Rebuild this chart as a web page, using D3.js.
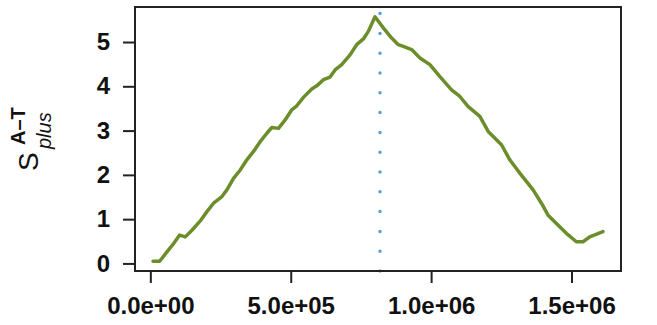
<!DOCTYPE html>
<html>
<head>
<meta charset="utf-8">
<script src="https://cdn.jsdelivr.net/npm/d3@7"></script>
<style>
  body { margin: 0; background: #fff; }
  text { font-family: "Liberation Sans", Arial, Helvetica, sans-serif; }
</style>
</head>
<body>
<svg width="657" height="325"></svg>
<script>
// genomic position and cumulative skew
var positions = [9500, 33200, 59300, 83000, 104300, 124500, 148200, 177800, 201500, 225200,
  254900, 272700, 296300, 320100, 343800, 367500, 391200, 414900, 432700, 456400,
  480100, 503800, 521600, 545300, 574900, 592700, 616400, 640100, 657900, 681600,
  711200, 734900, 758700, 776400, 800100, 829800, 859400, 883100, 900900, 930500,
  960200, 995700, 1031300, 1072800, 1102400, 1132100, 1173500, 1203200, 1250600, 1280200,
  1315800, 1363200, 1392800, 1416500, 1446200, 1481700, 1517300, 1541000, 1564700, 1612100];
var skew = [0.05, 0.05, 0.26, 0.45, 0.64, 0.60, 0.75, 0.96, 1.17, 1.36,
  1.51, 1.66, 1.92, 2.11, 2.34, 2.53, 2.75, 2.94, 3.07, 3.05,
  3.24, 3.47, 3.56, 3.75, 3.94, 4.01, 4.15, 4.21, 4.37, 4.49,
  4.71, 4.94, 5.07, 5.24, 5.57, 5.32, 5.09, 4.94, 4.90, 4.83,
  4.64, 4.49, 4.22, 3.92, 3.77, 3.54, 3.32, 2.98, 2.68, 2.34,
  2.04, 1.66, 1.36, 1.09, 0.90, 0.68, 0.49, 0.49, 0.60, 0.72];
var originPos = 818000;

var xTicks = [0, 5e5, 1e6, 1.5e6];
var xTickLabels = ["0.0e+00", "5.0e+05", "1.0e+06", "1.5e+06"];
var yTicks = [0, 1, 2, 3, 4, 5];

var svg = d3.select("svg"),
    margin = {top: 7, right: 36, bottom: 54, left: 135},
    width = 657 - margin.left - margin.right,
    height = 325 - margin.top - margin.bottom;

var g = svg.append("g").attr("transform", "translate(" + margin.left + "," + margin.top + ")");

// R style 4% padding
function pad(ext) {
  var d = (ext[1] - ext[0]) * 0.04;
  return [ext[0] - d, ext[1] + d];
}

var x = d3.scaleLinear().domain(pad(d3.extent(positions))).range([0, width]);
var y = d3.scaleLinear().domain(pad(d3.extent(skew))).range([height, 0]);

var line = d3.line()
    .x(function(d, i) { return x(positions[i]); })
    .y(function(d) { return y(d); });

g.append("path")
    .datum(skew)
    .attr("d", line)
    .attr("fill", "none")
    .attr("stroke", "#6b8e2b")
    .attr("stroke-width", 3.5)
    .attr("stroke-linejoin", "round")
    .attr("stroke-linecap", "round");

g.append("line")
    .attr("x1", x(originPos)).attr("x2", x(originPos))
    .attr("y1", height).attr("y2", 0)
    .attr("stroke", "#5a9fd8")
    .attr("stroke-width", 3.5)
    .attr("stroke-linecap", "round")
    .attr("stroke-dasharray", "0 19.8");

g.append("rect")
    .attr("width", width).attr("height", height)
    .attr("fill", "none")
    .attr("stroke", "#222")
    .attr("stroke-width", 2);

var xAxis = g.append("g")
    .attr("transform", "translate(0," + height + ")")
    .call(d3.axisBottom(x).tickValues(xTicks)
      .tickFormat(function(d, i) { return xTickLabels[i]; })
      .tickSize(12).tickPadding(14));

var yAxis = g.append("g")
    .call(d3.axisLeft(y).tickValues(yTicks).tickFormat(d3.format("d"))
      .tickSize(12).tickPadding(13));

[xAxis, yAxis].forEach(function(a) {
  a.select(".domain").remove();
  a.selectAll(".tick line").attr("stroke", "#222").attr("stroke-width", 2);
  a.selectAll(".tick text")
    .attr("fill", "#111")
    .style("font-size", "24px")
    .style("font-weight", "bold")
    .style("font-family", "'Liberation Sans', Arial, sans-serif");
});

// y label: S with superscript A–T and subscript plus
var lab = svg.append("g").attr("transform", "translate(38,171) rotate(-90)");
lab.append("text").attr("x", 0).attr("y", 0)
    .style("font-size", "28px").attr("fill", "#111").text("S");
lab.append("text").attr("x", 26).attr("y", -13)
    .style("font-size", "20px").style("font-weight", "bold").attr("fill", "#111").text("A–T");
lab.append("text").attr("x", 22).attr("y", 13)
    .style("font-size", "20px").style("font-style", "italic").attr("fill", "#111").text("plus");
</script>
</body>
</html>
